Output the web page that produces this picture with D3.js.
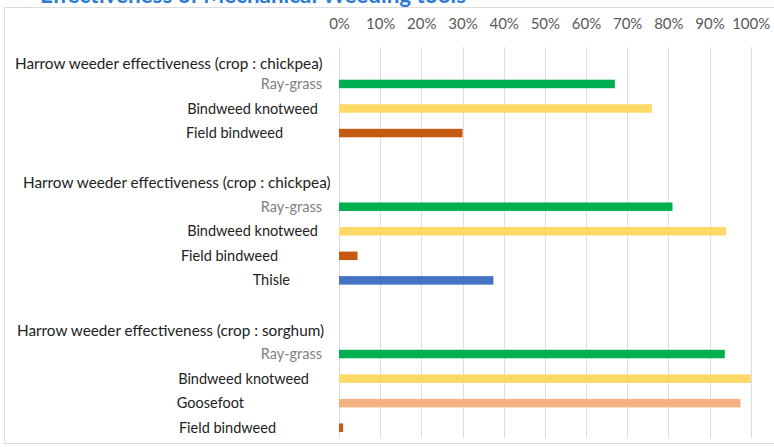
<!DOCTYPE html>
<html>
<head>
<meta charset="utf-8">
<script src="https://cdn.jsdelivr.net/npm/d3@7"></script>
<style>
	body { margin: 0; background: #fff; }
	text { font-family: Lato, "Open Sans", sans-serif; }
</style>
</head>
<body>
<div id="main"></div>
<script>
// chart values
const groupTitles = [
	"Harrow weeder effectiveness (crop : chickpea)",
	"Harrow weeder effectiveness (crop : chickpea)",
	"Harrow weeder effectiveness (crop : sorghum)",
];
const weeds1 = ["Ray-grass", "Bindweed knotweed", "Field bindweed"];
const values1 = [67, 76, 30];
const weeds2 = ["Ray-grass", "Bindweed knotweed", "Field bindweed", "Thisle"];
const values2 = [81, 94, 4.5, 37.5];
const weeds3 = ["Ray-grass", "Bindweed knotweed", "Goosefoot", "Field bindweed"];
const values3 = [93.7, 100, 97.5, 1];
const tickValues = [0, 10, 20, 30, 40, 50, 60, 70, 80, 90, 100];

const weedColors = {
	"Ray-grass": "#00b050",
	"Bindweed knotweed": "#ffd966",
	"Field bindweed": "#c55a11",
	Thisle: "#4472c4",
	Goosefoot: "#f4b183",
};

// layout of the labels (they are not aligned in the original)
const headerStart = [15, 23, 17];
const headerDy = [4, 0, 1];
const labelEnd = [322, 318, 283, 322, 318, 278, 290, 322, 309, 244, 276];

const width = 774,
	height = 447;

const groups = [
	{ weeds: weeds1, values: values1 },
	{ weeds: weeds2, values: values2 },
	{ weeds: weeds3, values: values3 },
];

// one row per header, per weed, and a blank row between groups
const rows = [];
groups.forEach((g, gi) => {
	rows.push({ type: "header", text: groupTitles[gi], group: gi });
	g.weeds.forEach((w, i) => {
		rows.push({ type: "item", text: w, value: g.values[i] });
	});
	if (gi < groups.length - 1) rows.push({ type: "blank" });
});
rows.forEach((r, i) => (r.index = i));

const x = d3.scaleLinear().domain([0, 100]).range([339, 750.7]);
const y = d3
	.scalePoint()
	.domain(rows.map((r) => r.index))
	.range([59.4, 427.7]);

const svg = d3
	.select("#main")
	.append("svg")
	.attr("width", width)
	.attr("height", height);

svg.append("rect")
	.attr("x", 4.5)
	.attr("y", 7.5)
	.attr("width", width)
	.attr("height", 436)
	.style("fill", "none")
	.style("stroke", "#dcdcdc");

svg.append("text")
	.attr("x", 40)
	.attr("y", 3)
	.text("Effectiveness of Mechanical Weeding tools")
	.style("font-size", "22.4px")
	.style("font-weight", 700)
	.style("fill", "#2b7bd4");

// gridlines
svg.append("g")
	.selectAll("line")
	.data(tickValues)
	.enter()
	.append("line")
	.attr("x1", (d) => Math.round(x(d)) + 0.5)
	.attr("x2", (d) => Math.round(x(d)) + 0.5)
	.attr("y1", 47)
	.attr("y2", 438)
	.style("stroke", "#dddddd");

const xAxis = svg
	.append("g")
	.attr("transform", "translate(0,29)")
	.call(
		d3
			.axisTop(x)
			.tickValues(tickValues)
			.tickSize(0)
			.tickPadding(0)
			.tickFormat((d) => d + "%")
	);
xAxis.select(".domain").remove();
xAxis.selectAll("text")
	.style("font-family", "Lato, sans-serif")
	.style("font-size", "15px")
	.style("fill", "#595959");

const items = rows.filter((r) => r.type === "item");
const headers = rows.filter((r) => r.type === "header");

svg.append("g")
	.selectAll("rect")
	.data(items)
	.enter()
	.append("rect")
	.attr("x", x(0))
	.attr("y", (d) => y(d.index) - 4.25)
	.attr("width", (d) => x(d.value) - x(0))
	.attr("height", 8.5)
	.style("fill", (d) => weedColors[d.text]);

svg.append("g")
	.selectAll("text")
	.data(items)
	.enter()
	.append("text")
	.attr("x", (d, i) => labelEnd[i])
	.attr("y", (d) => y(d.index))
	.attr("dy", "0.35em")
	.attr("text-anchor", "end")
	.text((d) => d.text)
	.style("font-size", "14.5px")
	.style("fill", (d) => (d.text === "Ray-grass" ? "#808080" : "#222"));

svg.append("g")
	.selectAll("text")
	.data(headers)
	.enter()
	.append("text")
	.attr("x", (d) => headerStart[d.group])
	.attr("y", (d) => y(d.index) + headerDy[d.group])
	.attr("dy", "0.35em")
	.text((d) => d.text)
	.style("font-size", "15.3px")
	.style("fill", "#222");
</script>
</body>
</html>
